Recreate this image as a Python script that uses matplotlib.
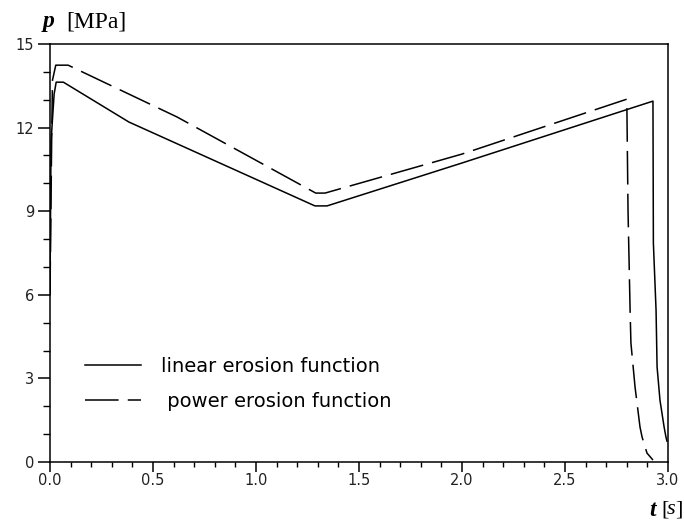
import numpy as np
import matplotlib
matplotlib.use("Agg")
import matplotlib.pyplot as plt
from matplotlib.ticker import MultipleLocator

# pressure curves
t_linear = [0.0, 0.005, 0.02, 0.03, 0.065, 0.383, 1.286, 1.345, 2.0, 2.927,
            2.929, 2.942, 2.947, 2.961, 2.981, 2.990, 2.995]
p_linear = [6.0, 11.5, 13.2, 13.63, 13.63, 12.2, 9.19, 9.19, 10.73, 12.95,
            7.86, 5.45, 3.41, 2.22, 1.26, 0.9, 0.75]

t_power = [0.0, 0.008, 0.012, 0.028, 0.088, 0.617, 1.29, 1.335, 2.0, 2.80,
           2.806, 2.816, 2.82, 2.84, 2.864, 2.874, 2.898, 2.927]
p_power = [6.0, 11.5, 13.7, 14.24, 14.24, 12.38, 9.65, 9.65, 11.05, 13.02,
           9.0, 5.45, 4.27, 2.69, 1.26, 0.9, 0.32, 0.07]

labels = ["linear erosion function", " power erosion function"]
xticks = [0.0, 0.5, 1.0, 1.5, 2.0, 2.5, 3.0]

fig = plt.figure(figsize=(6.84, 5.24), dpi=100)
ax = fig.add_axes([50/684, 1-462/524, 618/684, 418/524])

ax.plot(t_linear, p_linear, color="black", lw=1.1, label=labels[0])
ax.plot(t_power, p_power, color="black", lw=1.1, dashes=(22, 6), label=labels[1])

ax.set_xlim(0, 3.0)
ax.set_ylim(0, 15)
ax.set_xticks(xticks)
ax.set_xticklabels([f"{v:.1f}" for v in xticks])
ax.xaxis.set_minor_locator(MultipleLocator(0.1))
ax.yaxis.set_major_locator(MultipleLocator(3))
ax.yaxis.set_minor_locator(MultipleLocator(1))

for s in ax.spines.values():
    s.set_linewidth(1.1)

ax.tick_params(axis="x", which="major", direction="out", length=7.2, width=1.1,
               labelsize=10.5, pad=1, labelcolor="#222222", top=False)
ax.tick_params(axis="x", which="minor", direction="out", length=3.6, width=1.0, top=False)
ax.tick_params(axis="y", which="major", direction="out", length=8.5, width=1.1,
               labelsize=10.5, pad=3, labelcolor="#222222", right=False)
ax.tick_params(axis="y", which="minor", direction="out", length=5, width=1.0, right=False)
for lab in ax.get_xticklabels() + ax.get_yticklabels():
    lab.set_family("DejaVu Sans")

leg = ax.legend(loc="center left", bbox_to_anchor=(0.0566, 0.1866), frameon=False,
                borderaxespad=0, borderpad=0, handlelength=2.9, handletextpad=1.0,
                labelspacing=0.85, prop={"family": "DejaVu Sans", "size": 14})

# axis titles
fig.text(43/684, 1-22/524, "p", fontsize=17, va="center", ha="left",
         family="Liberation Serif", fontweight="bold", style="italic")
fig.text(66/684, 1-22/524, "[MPa]", fontsize=17, va="center", ha="left",
         family="Liberation Serif")
fig.text(649/684, 1-510/524, "t", fontsize=17, va="center", ha="left",
         family="Liberation Serif", fontweight="bold", style="italic")
fig.text(661/684, 1-510/524, "[", fontsize=16, va="center", ha="left",
         family="Liberation Serif")
fig.text(667/684, 1-510/524, "s", fontsize=16, va="center", ha="left",
         family="Liberation Serif", style="italic")
fig.text(675/684, 1-510/524, "]", fontsize=16, va="center", ha="left",
         family="Liberation Serif")

fig.savefig("out.png", dpi=100)
